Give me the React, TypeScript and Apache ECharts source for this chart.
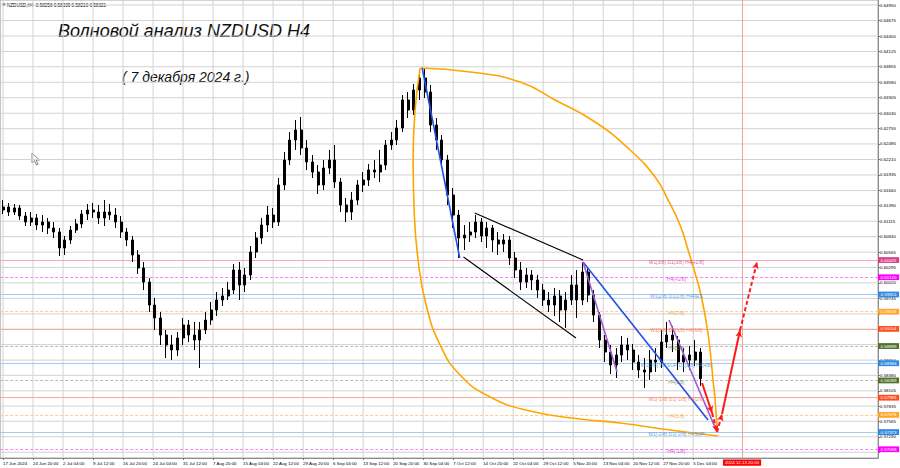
import React, { useEffect, useRef } from 'react';
import * as echarts from 'echarts';

// NZDUSD, daily OHLC rows [open, close, low, high], one per trading day from Mon 17 Jun 2024
const dailyOHLC: number[][] = [
  [0.61313, 0.61366, 0.61242, 0.61490], [0.61366, 0.61278, 0.61207, 0.61437], [0.61278, 0.61349, 0.61224, 0.61419], [0.61349, 0.61207, 0.61136, 0.61402], [0.61207, 0.61100, 0.61029, 0.61278],
  [0.61100, 0.61171, 0.61029, 0.61278], [0.61171, 0.61047, 0.60958, 0.61242], [0.61047, 0.61100, 0.60923, 0.61224], [0.61100, 0.60994, 0.60887, 0.61171], [0.60994, 0.60923, 0.60816, 0.61100],
  [0.60923, 0.60639, 0.60497, 0.60994], [0.60639, 0.60781, 0.60515, 0.60852], [0.60781, 0.60958, 0.60710, 0.61029], [0.60958, 0.61065, 0.60905, 0.61153], [0.61065, 0.61242, 0.60994, 0.61313],
  [0.61242, 0.61313, 0.61136, 0.61419], [0.61313, 0.61278, 0.61171, 0.61437], [0.61278, 0.61171, 0.61065, 0.61402], [0.61171, 0.61278, 0.61029, 0.61490], [0.61278, 0.61224, 0.61136, 0.61419],
  [0.61224, 0.61100, 0.60994, 0.61349], [0.61100, 0.60923, 0.60816, 0.61207], [0.60923, 0.60781, 0.60674, 0.60994], [0.60781, 0.60515, 0.60390, 0.60852], [0.60515, 0.60284, 0.60177, 0.60603],
  [0.60284, 0.60035, 0.59893, 0.60390], [0.60035, 0.59627, 0.59503, 0.60107], [0.59627, 0.59397, 0.59184, 0.59752], [0.59397, 0.59095, 0.58918, 0.59503], [0.59095, 0.58918, 0.58687, 0.59184],
  [0.58918, 0.58829, 0.58651, 0.59095], [0.58829, 0.59042, 0.58722, 0.59148], [0.59042, 0.59273, 0.58918, 0.59397], [0.59273, 0.59095, 0.58971, 0.59361], [0.59095, 0.59006, 0.58829, 0.59326],
  [0.59006, 0.59184, 0.58510, 0.59326], [0.59184, 0.59361, 0.59113, 0.59503], [0.59361, 0.59539, 0.59273, 0.59681], [0.59539, 0.59716, 0.59432, 0.59858], [0.59716, 0.59787, 0.59610, 0.59929],
  [0.59787, 0.59893, 0.59716, 0.60035], [0.59893, 0.60248, 0.59822, 0.60355], [0.60248, 0.59982, 0.59716, 0.60390], [0.59982, 0.60160, 0.59858, 0.60284], [0.60160, 0.60568, 0.60071, 0.60674],
  [0.60568, 0.60816, 0.60461, 0.60923], [0.60816, 0.61047, 0.60710, 0.61171], [0.61047, 0.61224, 0.60923, 0.61384], [0.61224, 0.61100, 0.60994, 0.61349], [0.61100, 0.61757, 0.61029, 0.61881],
  [0.61757, 0.62200, 0.61668, 0.62342], [0.62200, 0.62555, 0.62111, 0.62697], [0.62555, 0.62732, 0.62378, 0.62910], [0.62732, 0.62413, 0.62289, 0.62963], [0.62413, 0.62165, 0.62023, 0.62555],
  [0.62165, 0.61987, 0.61881, 0.62289], [0.61987, 0.61757, 0.61597, 0.62111], [0.61757, 0.62058, 0.61668, 0.62200], [0.62058, 0.62200, 0.61952, 0.62378], [0.62200, 0.61810, 0.61703, 0.62466],
  [0.61810, 0.61402, 0.61278, 0.61881], [0.61402, 0.61278, 0.61100, 0.61526], [0.61278, 0.61490, 0.61136, 0.61632], [0.61490, 0.61757, 0.61402, 0.61845], [0.61757, 0.61845, 0.61632, 0.61987],
  [0.61845, 0.62023, 0.61739, 0.62129], [0.62023, 0.61987, 0.61881, 0.62200], [0.61987, 0.62111, 0.61810, 0.62378], [0.62111, 0.62466, 0.62023, 0.62555], [0.62466, 0.62555, 0.62378, 0.62697],
  [0.62555, 0.62768, 0.62466, 0.62910], [0.62768, 0.63265, 0.62697, 0.63353], [0.63265, 0.63087, 0.62945, 0.63407], [0.63087, 0.63442, 0.62999, 0.63549], [0.63442, 0.63655, 0.63265, 0.63762],
  [0.63655, 0.63407, 0.63300, 0.63832], [0.63407, 0.62821, 0.62697, 0.63531], [0.62821, 0.62555, 0.62378, 0.62945], [0.62555, 0.62200, 0.62058, 0.62644], [0.62200, 0.61579, 0.61402, 0.62289],
  [0.61579, 0.61224, 0.60994, 0.61703], [0.61224, 0.60816, 0.60461, 0.61313], [0.60816, 0.60869, 0.60603, 0.61047], [0.60869, 0.60923, 0.60745, 0.61100], [0.60923, 0.61100, 0.60816, 0.61224],
  [0.61100, 0.60852, 0.60745, 0.61171], [0.60852, 0.60994, 0.60639, 0.61100], [0.60994, 0.60781, 0.60568, 0.61047], [0.60781, 0.60710, 0.60515, 0.60923], [0.60710, 0.60781, 0.60568, 0.60887],
  [0.60781, 0.60461, 0.60337, 0.60852], [0.60461, 0.60248, 0.60107, 0.60568], [0.60248, 0.60035, 0.59893, 0.60390], [0.60035, 0.60160, 0.59929, 0.60284], [0.60160, 0.60071, 0.59893, 0.60248],
  [0.60071, 0.59893, 0.59752, 0.60160], [0.59893, 0.59716, 0.59610, 0.60000], [0.59716, 0.59627, 0.59503, 0.59858], [0.59627, 0.59787, 0.59432, 0.59929], [0.59787, 0.59539, 0.59326, 0.59893],
  [0.59539, 0.59716, 0.59219, 0.59858], [0.59716, 0.59982, 0.59627, 0.60160], [0.59982, 0.59716, 0.59397, 0.60248], [0.59716, 0.60213, 0.59627, 0.60390], [0.60213, 0.59805, 0.59681, 0.60284],
  [0.59805, 0.59450, 0.59326, 0.59893], [0.59450, 0.59006, 0.58864, 0.59503], [0.59006, 0.58793, 0.58616, 0.59095], [0.58793, 0.58563, 0.58403, 0.58918], [0.58563, 0.58740, 0.58332, 0.58864],
  [0.58740, 0.58918, 0.58616, 0.59077], [0.58918, 0.58829, 0.58651, 0.59042], [0.58829, 0.58616, 0.58474, 0.58936], [0.58616, 0.58474, 0.58332, 0.58740], [0.58474, 0.58439, 0.58155, 0.58687],
  [0.58439, 0.58651, 0.58297, 0.58829], [0.58651, 0.58616, 0.58439, 0.58864], [0.58616, 0.58971, 0.58510, 0.59184], [0.58971, 0.59095, 0.58864, 0.59326], [0.59095, 0.59006, 0.58793, 0.59255],
  [0.59006, 0.58616, 0.58474, 0.59077], [0.58616, 0.58740, 0.58439, 0.58864], [0.58740, 0.58651, 0.58474, 0.58900], [0.58651, 0.58793, 0.58545, 0.59006], [0.58793, 0.58321, 0.58190, 0.58864],
];

// The x axis counts H4 bars from 17 Jun 2024 00:00 (six bars per trading day)
const BARS_PER_DAY = 6;
const X_MAX = 936;
const Y_MIN = 0.56913;
const Y_MAX = 0.65039;

// Time scale labels, one every 32 H4 bars starting at bar 3
const timeLabels = [
  '17 Jun 2024', '24 Jun 20:00', '2 Jul 04:00', '9 Jul 12:00', '16 Jul 20:00', '24 Jul 04:00',
  '31 Jul 12:00', '7 Aug 20:00', '15 Aug 04:00', '22 Aug 12:00', '29 Aug 20:00', '6 Sep 04:00',
  '13 Sep 12:00', '20 Sep 20:00', '30 Sep 04:00', '7 Oct 12:00', '14 Oct 20:00', '22 Oct 04:00',
  '29 Oct 12:00', '5 Nov 20:00', '13 Nov 04:00', '20 Nov 12:00', '27 Nov 20:00', '5 Dec 04:00',
];
const TIME_LABEL_FIRST = 3;
const TIME_LABEL_STEP = 32;

// Price scale grid steps
const priceSteps = [
  0.64950, 0.64675, 0.64400, 0.64125, 0.63855, 0.63580, 0.63305, 0.63030, 0.62755, 0.62485,
  0.62210, 0.61935, 0.61660, 0.61390, 0.61115, 0.60840, 0.60565, 0.60295, 0.60020, 0.59745,
  0.59470, 0.59200, 0.58925, 0.58650, 0.58380, 0.58105, 0.57835, 0.57565, 0.57290, 0.57015,
];
// Steps whose label sits under a level price box
const coveredSteps = [0.59470, 0.59200, 0.57015];

// Murrey math levels (W1 / D1 / H4)
const levelPrices = [0.60425, 0.60120, 0.59814, 0.59509, 0.59204, 0.58899, 0.58594, 0.58289, 0.57983, 0.57678, 0.57373, 0.57068];
const levelTags = [
  'W1[3/8] D1[3/8] H4[+2/8]', 'H4[+1/8]', 'W1[2/8] D1[2/8] H4RES', 'H4[7/8]',
  'W1[1/8] D1[1/8] H4[6/8]', 'H4[5/8]', 'W1[0/8] W1SUP D1[0/8] H4[4/8]', 'H4[3/8]',
  'W1[-1/8] D1[-1/8] H4[2/8]', 'H4[1/8]', 'W1[-2/8] D1[-2/8] H4SUP', 'H4[-1/8]',
];
const levelKinds = ['pink', 'magenta', 'blue', 'orange', 'salmon', 'olive', 'blue', 'olive', 'salmon', 'orange', 'blue', 'magenta'];
const TAG_BAR = 721;

const lastQuote = { open: 0.58258, high: 0.58339, low: 0.58210, close: 0.58321 };
const markerTime = '2024.12.13 20:00';
const MARKER_BAR = 791;

// Wave drawing anchors, [H4 bar, price]
const waveTop = [450, 0.63832];
const wave1Low = [490, 0.60461];
const wave4Top = [621.5, 0.60390];
const blueLegs = [
  [waveTop, wave1Low],
  [wave4Top, [754.8, 0.57587]],
];
const channelLines = [
  [[506, 0.61260], [621.5, 0.60426]],
  [[494, 0.60479], [614, 0.59042]],
];
const purpleLegs = [
  [wave4Top, [657.8, 0.58439]],
  [[713.2, 0.59361], [764.4, 0.57373]],
];
// Forecast path: [from, to, dashed]
const forecastLegs: [number[], number[], boolean][] = [
  [[748.4, 0.58243], [759.1, 0.57711], false],
  [[759.1, 0.57711], [764.4, 0.57373], true],
  [[764.4, 0.57373], [769.7, 0.57693], true],
  [[769.7, 0.57693], [788.9, 0.59184], false],
  [[788.9, 0.59184], [807.0, 0.60390], true],
];
// Time/price arcs from the September top
const arcOuter = [
  [447.8, 0.63832], [501.1, 0.63762], [554.4, 0.63584], [591.7, 0.63265], [634.3, 0.62874],
  [671.6, 0.62378], [698.3, 0.61898], [712.2, 0.61490], [724.9, 0.61047], [733.5, 0.60603],
  [743.1, 0.60071], [748.4, 0.59716], [753.7, 0.59237], [756.9, 0.58829], [760.1, 0.58297],
  [762.3, 0.57942], [764.4, 0.57410],
];
const arcInner = [
  [447.8, 0.63832], [442.4, 0.63087], [440.3, 0.62200], [441.4, 0.61313], [445.6, 0.60426],
  [454.2, 0.59627], [469.1, 0.58918], [490.4, 0.58385], [522.4, 0.57995], [565.0, 0.57747],
  [618.3, 0.57605], [661.0, 0.57534], [714.3, 0.57410], [765.5, 0.57303],
];

const FONT = '"Liberation Sans", Arial, sans-serif';

const kindStyle: Record<string, { line: string; dashed: boolean; box: string; tag: string }> = {
  pink: { line: '#f4a6c6', dashed: false, box: '#d8408a', tag: '#c4407c' },
  magenta: { line: '#ff80ff', dashed: true, box: '#ff00ff', tag: '#e020e0' },
  blue: { line: '#9fcbf4', dashed: false, box: '#2e8ae6', tag: '#3a8ad8' },
  orange: { line: '#ffcc8a', dashed: true, box: '#ffa424', tag: '#f0a040' },
  salmon: { line: '#f8aa96', dashed: false, box: '#ff4c1c', tag: '#f07050' },
  olive: { line: '#bcbcae', dashed: true, box: '#55702a', tag: '#6a7a40' },
};

function boxLabel(text: string, bg: string) {
  return {
    show: true,
    position: 'end',
    distance: 0,
    formatter: text,
    backgroundColor: bg,
    color: '#ffffff',
    fontSize: 4.4,
    lineHeight: 5,
    fontFamily: FONT,
    padding: [0.5, 2.6, 0.3, 2.6],
  };
}

function segment(a: number[], b: number[], style: any, arrow: boolean) {
  return [
    { coord: a, symbol: 'none', lineStyle: style },
    { coord: b, symbol: arrow ? 'arrow' : 'none', symbolSize: arrow ? [5, 7] : 0 },
  ];
}

function buildOption() {
  const timeTicks = timeLabels.map((_, i) => TIME_LABEL_FIRST + i * TIME_LABEL_STEP);
  const labelSteps = priceSteps.filter((p) => !coveredSteps.includes(p));
  const candles = dailyOHLC.map((d, i) => [i * BARS_PER_DAY + 3, d[0], d[1], d[2], d[3]]);

  // chart grid as plain line series across the plot, underneath everything else
  const gridSeries = [
    ...timeTicks.map((b) => [[b, Y_MIN], [b, Y_MAX]]),
    ...priceSteps.map((p) => [[0, p], [X_MAX, p]]),
  ].map((pts) => ({
    type: 'line',
    data: pts,
    symbol: 'none',
    silent: true,
    z: 0,
    lineStyle: { color: '#d2d2d2', width: 1 },
  }));

  const lines: any[] = [
    {
      yAxis: lastQuote.close,
      lineStyle: { opacity: 0 },
      label: boxLabel(lastQuote.close.toFixed(5), '#000000'),
    },
  ];
  levelPrices.forEach((p, i) => {
    const k = kindStyle[levelKinds[i]];
    lines.push({
      yAxis: p,
      lineStyle: { color: k.line, width: 1, type: k.dashed ? [3, 2] : 'solid' },
      label: boxLabel(p.toFixed(5), k.box),
    });
  });
  lines.push({
    xAxis: MARKER_BAR,
    lineStyle: { color: '#f5a0a0', width: 1, type: 'solid' },
    label: {
      show: true,
      position: 'start',
      distance: 1.5,
      formatter: markerTime,
      backgroundColor: '#ff0000',
      color: '#ffffff',
      fontSize: 4.4,
      lineHeight: 5,
      fontFamily: FONT,
      padding: [0.8, 2, 0.5, 2],
    },
  });

  const blue = { color: '#2050e8', width: 1.6, type: 'solid' };
  const black = { color: '#000000', width: 1.1, type: 'solid' };
  const purple = { color: '#a05ad8', width: 1.6, type: 'solid' };
  const redSolid = { color: '#ff1a1a', width: 2, type: 'solid' };
  const redDashed = { color: '#ff1a1a', width: 2, type: [4, 2.5] };

  const drawings: any[] = [
    ...blueLegs.map((s) => segment(s[0], s[1], blue, false)),
    ...channelLines.map((s) => segment(s[0], s[1], black, false)),
    ...purpleLegs.map((s) => segment(s[0], s[1], purple, false)),
    ...forecastLegs.map((s) => segment(s[0], s[1], s[2] ? redDashed : redSolid, true)),
  ];

  const tags = levelPrices.map((p, i) => ({
    name: levelTags[i],
    value: [TAG_BAR, p],
    label: { color: kindStyle[levelKinds[i]].tag },
  }));

  const axisText = { fontSize: 4.4, color: '#000000', fontFamily: FONT };

  return {
    animation: false,
    backgroundColor: '#ffffff',
    grid: { left: 0, right: 22, top: 0, bottom: 10, show: true, borderColor: '#a8a8a8', borderWidth: 1 },
    xAxis: {
      type: 'value',
      min: 0,
      max: X_MAX,
      axisLine: { show: true, onZero: false, lineStyle: { color: '#8c8c8c', width: 1 } },
      axisTick: { show: true, length: 2, customValues: timeTicks, lineStyle: { color: '#777777' } },
      axisLabel: {
        ...axisText,
        customValues: timeTicks,
        align: 'left',
        margin: 3,
        formatter: (v: number) => timeLabels[Math.round((v - TIME_LABEL_FIRST) / TIME_LABEL_STEP)] ?? '',
      },
      splitLine: { show: false },
    },
    yAxis: {
      type: 'value',
      position: 'right',
      min: Y_MIN,
      max: Y_MAX,
      axisLine: { show: true, onZero: false, lineStyle: { color: '#8c8c8c', width: 1 } },
      axisTick: { show: true, length: 2, customValues: priceSteps, lineStyle: { color: '#777777' } },
      axisLabel: {
        ...axisText,
        customValues: labelSteps,
        margin: 2,
        formatter: (v: number) => v.toFixed(5),
      },
      splitLine: { show: false },
    },
    series: [
      ...gridSeries,
      {
        type: 'candlestick',
        name: 'NZDUSD,H4',
        data: candles,
        barWidth: 2.5,
        z: 2,
        itemStyle: {
          color: '#000000',
          color0: '#000000',
          borderColor: '#000000',
          borderColor0: '#000000',
          borderWidth: 1,
        },
        markLine: {
          silent: true,
          z: 1,
          precision: 5,
          symbol: 'none',
          label: { show: false },
          data: lines,
        },
      },
      {
        type: 'line',
        name: 'arc outer',
        data: arcOuter,
        smooth: 0.5,
        symbol: 'none',
        z: 3,
        lineStyle: { color: '#ffa500', width: 1.6 },
        markLine: {
          silent: true,
          z: 4,
          precision: 5,
          symbol: 'none',
          label: { show: false },
          data: drawings,
        },
      },
      {
        type: 'line',
        name: 'arc inner',
        data: arcInner,
        smooth: 0.5,
        symbol: 'none',
        z: 3,
        lineStyle: { color: '#ffa500', width: 1.6 },
      },
      {
        type: 'scatter',
        name: 'level tags',
        data: tags,
        symbolSize: 0,
        z: 5,
        silent: true,
        label: {
          show: true,
          position: 'inside',
          formatter: '{b}',
          fontSize: 5,
          fontFamily: FONT,
          offset: [0, 1.5],
        },
      },
    ],
    graphic: [
      {
        type: 'polygon',
        shape: { points: [[2, 3.6], [5.6, 3.6], [3.8, 6.2]] },
        style: { fill: '#222222' },
      },
      {
        type: 'text',
        x: 7,
        y: 5,
        style: {
          text: `NZDUSD,H4  ${lastQuote.open.toFixed(5)} ${lastQuote.high.toFixed(5)} ${lastQuote.low.toFixed(5)} ${lastQuote.close.toFixed(5)}`,
          fontSize: 4.6,
          fontFamily: FONT,
          fill: '#000000',
          verticalAlign: 'middle',
        },
      },
      {
        type: 'text',
        x: 58,
        y: 31,
        style: {
          text: 'Волновой анализ NZDUSD H4',
          fontSize: 18,
          fontStyle: 'italic',
          fontFamily: FONT,
          fill: '#111111',
          verticalAlign: 'middle',
        },
      },
      {
        type: 'text',
        x: 122,
        y: 77,
        style: {
          text: '( 7 декабря 2024 г.)',
          fontSize: 14,
          fontStyle: 'italic',
          fontFamily: FONT,
          fill: '#111111',
          verticalAlign: 'middle',
        },
      },
      {
        type: 'polygon',
        shape: { points: [[32, 153], [32, 163], [34.5, 160.6], [36.4, 165], [38, 164.3], [36.1, 160], [39.4, 160]] },
        style: { fill: '#ffffff', stroke: '#666666', lineWidth: 0.8 },
      },
    ],
  };
}

export default function App() {
  const ref = useRef<HTMLDivElement>(null);
  useEffect(() => {
    if (!ref.current) return;
    const chart = echarts.init(ref.current, undefined, { renderer: 'svg' });
    chart.setOption(buildOption() as any);
    return () => chart.dispose();
  }, []);
  return (
    <div
      ref={ref}
      style={{ position: 'fixed', left: 0, top: 0, width: 900, height: 468, background: '#ffffff' }}
    />
  );
}
